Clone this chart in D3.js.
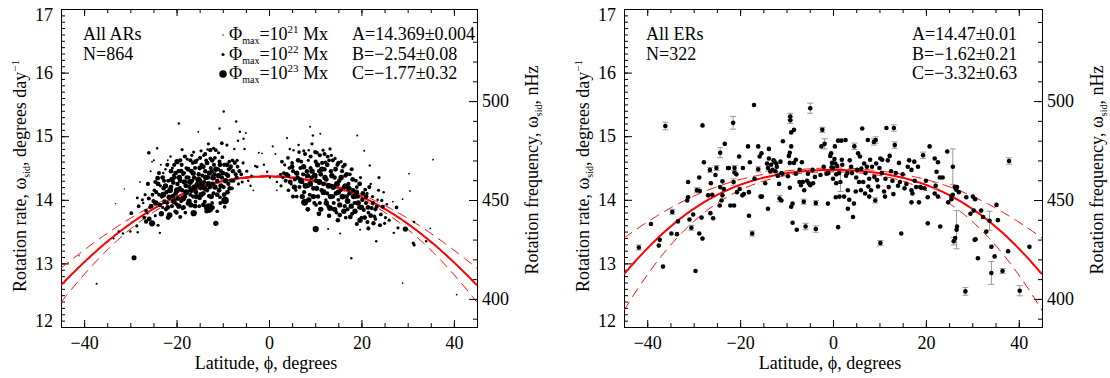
<!DOCTYPE html>
<html>
<head>
<meta charset="utf-8">
<script src="https://cdn.jsdelivr.net/npm/d3@7"></script>
<style>
  body { margin: 0; background: #fff; }
  svg text { font-family: "Liberation Serif", "Times New Roman", serif; font-size: 18px; fill: #000; }
</style>
</head>
<body>
<svg id="chart" width="1110" height="378"></svg>
<script>
// ---- data ----
// active regions: [latitude deg, rotation rate deg/day, peak flux in 1e22 Mx]
const arOutliers = [
  [-41.1,13.12,0.1],[-37.3,12.68,0.3],[-33.6,13.39,0.3],[-33.2,13.94,0.1],[-32.5,13.50,0.5],[-31.6,13.47,0.5],
  [-31.3,14.17,0.1],[-30.0,13.50,0.5],[-29.8,13.79,1.5],[-29.2,13.09,3.5],[-28.5,14.03,0.8],[-28.2,13.90,1.5],
  [-28.6,13.59,1],[-28.4,13.49,0.5],[-27.9,14.28,0.2],[-27.4,14.00,1],[-26.6,13.83,1.5],[-26.0,14.74,1.5],
  [-25.3,14.60,0.2],[-24.2,14.81,0.5],[-24.1,14.34,3],[-23.6,13.48,0.5],[-19.5,15.20,0.5],[-15.3,15.07,0.2],
  [-10.7,15.12,0.5],[-9.8,15.39,0.5],[-7.1,15.23,0.5],[-6.3,15.07,0.5],[-5.0,15.05,0.3],[-10.2,14.89,1.5],
  [-11.5,13.63,4],[-13.0,13.87,20],[-16.3,13.79,6],[-19.2,13.73,2],[-25.3,13.63,6],[-9.5,13.99,10],
  [26.8,13.97,0.2],[27.6,13.88,1.5],[27.9,13.56,1],[28.9,14.01,0.2],[29.5,13.54,4],[30.3,14.41,0.2],
  [30.5,14.14,0.2],[31.4,13.65,0.5],[31.2,13.32,1],[31.4,13.29,1],[34.0,13.35,0.5],[34.9,13.55,0.2],
  [35.5,14.63,0.2],[28.9,12.69,0.2],[40.6,12.51,0.2],[26.0,13.68,1],[27.0,13.48,0.5]
];
const arSouth = [
  [-27.2,13.95,0.5],[-26.8,14.08,1],[-27.0,13.72,1.5],[-26.6,13.66,2.5],
  [-26.2,14.25,2],[-25.8,13.88,1],[-25.9,13.70,3],[-26.3,13.79,0.5],[-25.6,14.45,0.3],
  [-24.8,14.15,1.5],[-25.0,13.98,2],[-24.6,13.75,1],[-24.9,14.62,0.3],[-25.2,14.08,1.5],
  [-23.8,14.08,1.5],[-23.6,13.92,2.5],[-24.0,13.60,1],[-23.5,14.22,1],[-24.4,14.12,2],
  [-23.2,14.05,2],[-22.8,14.18,2.5],[-23.0,13.88,1],[-22.6,13.97,3],[-22.9,14.42,0.5],[-23.4,14.55,0.3],[-22.7,14.30,2],
  [-22.2,14.12,2.5],[-21.8,14.30,2],[-22.0,13.95,1.5],[-21.6,14.04,4],[-21.5,13.76,5],[-22.4,14.48,0.5],[-21.9,14.62,0.3],[-22.3,13.85,2],
  [-21.2,14.20,3],[-20.8,14.06,2.5],[-21.0,13.90,2],[-20.6,14.38,1.5],[-20.9,14.50,1],[-21.3,14.68,0.5],[-20.7,14.27,2.5],
  [-20.2,14.10,3],[-19.8,14.25,2.5],[-19.9,14.60,4],[-20.0,13.93,2],[-19.6,14.45,2],[-20.3,13.82,1.5],[-19.7,14.02,3],[-20.4,14.35,2],
  [-19.2,14.30,3],[-18.8,14.15,2.5],[-19.0,13.98,2],[-18.6,14.40,1.5],[-18.9,14.55,2],[-18.7,13.86,1],[-18.8,14.79,1],[-19.3,14.18,2.5],
  [-18.2,14.05,3],[-17.8,14.35,2.5],[-18.0,14.22,3],[-17.6,13.94,2],[-17.9,14.50,1.5],[-17.7,14.64,1],[-18.1,13.80,1.5],[-18.4,14.42,2],
  [-17.2,14.20,2.5],[-16.8,14.45,3],[-17.0,14.08,2],[-16.6,14.30,2],[-16.9,13.92,4],[-16.7,14.70,1],[-16.5,14.58,1.5],[-17.4,14.35,2],
  [-16.2,14.35,2.5],[-15.8,14.12,3],[-16.0,14.50,2],[-15.6,14.25,2.5],[-15.9,13.97,1.5],[-16.3,14.75,1],[-15.5,14.63,1],[-16.4,14.05,2],
  [-15.2,14.40,2.5],[-14.8,14.18,2],[-15.0,14.03,2.5],[-14.6,14.55,2],[-14.9,14.30,3],[-15.1,13.90,1.5],[-14.7,14.77,1],[-15.4,14.22,2],
  [-14.2,14.10,3],[-13.8,14.45,2.5],[-14.0,14.28,2],[-13.6,14.62,1.5],[-13.9,13.97,2],[-14.1,14.70,1],[-13.5,13.82,2.5],[-14.4,14.38,2],
  [-13.2,14.35,2.5],[-12.8,14.20,3],[-12.6,14.50,2],[-13.0,14.06,2],[-13.1,14.88,1],[-12.7,14.65,1.5],[-13.3,14.79,0.5],[-13.4,14.15,2.5],
  [-12.2,14.25,3],[-11.8,14.40,2.5],[-12.0,14.10,2],[-11.9,14.55,2],[-12.3,13.95,1.5],[-12.0,14.81,1],[-11.7,14.66,1.5],[-12.4,14.45,2],
  [-11.2,14.30,2.5],[-10.8,14.15,3],[-11.0,14.48,2],[-10.6,14.04,1.5],[-10.9,14.74,1],[-11.2,13.82,1.5],[-10.7,14.60,2],
  [-10.2,14.35,2.5],[-9.8,14.20,2],[-9.7,14.55,2],[-9.6,13.89,1.5],[-10.1,14.67,1.5],[-10.4,14.45,2],
  [-9.2,14.40,2.5],[-8.8,14.25,2],[-9.0,14.12,3],[-8.6,14.60,1.5],[-9.1,14.86,1],[-8.7,14.48,2],
  [-8.2,14.30,2],[-7.8,14.45,2.5],[-8.0,14.18,1.5],[-7.5,14.80,0.5],[-7.9,14.62,1.5],
  [-7.0,14.35,2],[-6.8,14.52,1.5],[-6.6,14.25,1],[-6.9,14.62,1],[-6.7,14.93,0.5],
  [-6.0,14.40,1.5],[-5.8,14.28,1],[-5.5,14.96,0.5],[-5.6,14.58,1],[-5.3,14.80,0.5],
  [-4.5,14.30,0.5],[-4.0,14.22,0.5],[-3.4,14.15,0.2],[-3.0,14.53,0.5],[-2.6,14.52,1],[-2.2,14.74,0.3],
  [-1.5,14.73,0.2],[-1.1,14.55,0.5],[-4.8,14.45,1],[-3.8,14.38,0.5]
];
const arSouthCore = [
  [-24.5,13.95,4],[-24.0,14.25,3],[-23.3,13.78,4],[-22.9,14.08,5],[-22.4,14.22,4],[-21.9,13.88,3],[-21.4,14.15,5],
  [-21.0,14.32,4],[-20.6,13.98,5],[-20.2,14.42,3],[-19.9,14.15,5],[-19.5,13.90,4],[-19.4,14.35,4],[-19.0,14.45,3],
  [-18.6,14.02,5],[-18.3,14.28,4],[-17.9,14.12,5],[-17.5,14.48,3],[-17.3,13.98,4],[-17.1,14.28,5],[-16.8,14.15,4],
  [-16.4,14.42,4],[-16.1,14.20,5],[-15.9,14.60,3],[-15.7,14.05,4],[-15.3,14.32,5],[-15.0,14.50,3],[-14.7,14.08,4],
  [-14.5,14.25,5],[-14.2,14.52,3],[-13.9,14.18,4],[-13.7,14.35,4],[-13.4,14.58,3],[-13.1,14.25,5],[-12.9,14.42,4],
  [-12.5,14.05,4],[-12.3,14.62,3],[-12.1,14.35,5],[-11.7,14.20,4],[-11.5,14.48,4],[-11.2,14.08,3],[-10.9,14.38,4],
  [-10.6,14.55,3],[-10.4,14.22,4],[-10.0,14.42,3],[-9.7,14.08,3],[-9.4,14.30,4],[-9.1,14.55,3],[-8.9,14.38,3],
  [-8.5,14.18,3],[-8.3,14.52,3],[-7.7,14.30,2],[-7.4,14.58,2],[-7.2,14.40,2],[-6.4,14.45,2],[-23.0,14.35,3],
  [-22.0,14.55,2],[-21.2,14.45,3],[-20.5,14.55,2],[-19.2,14.62,2],[-18.2,14.68,2],[-17.0,14.62,2],[-14.9,14.66,2],
  [-13.8,14.72,2],[-12.7,14.78,2],[-11.5,14.78,1.5],[-18.5,13.88,3],[-16.0,13.90,3],[-14.2,13.92,3],[-12.2,13.88,2.5],
  [-10.5,13.95,2],[-25.5,13.90,3],[-26.0,14.02,2],[-24.6,14.28,2],[-23.8,14.42,2],[-21.8,13.72,3],[-20.0,13.80,2.5]
];
const arNorth = [
  [-0.4,14.44,0.5],[0.2,14.35,0.5],[0.8,14.84,0.3],[1.4,14.72,0.3],[1.7,14.15,0.2],[1.7,14.28,0.5],
  [2.5,14.40,1],[2.8,14.60,1.5],[2.6,14.22,1],
  [3.2,14.42,1.5],[3.6,14.30,2],[3.4,14.55,1],[3.9,14.97,0.3],[3.0,14.35,1],
  [4.2,14.38,2],[4.5,14.80,0.5],[4.4,14.50,1.5],[4.8,14.25,1],[4.1,14.66,1.5],
  [5.2,14.45,2],[5.3,14.78,0.5],[5.6,14.32,2],[5.8,14.15,1],[5.0,14.58,1.5],
  [6.2,14.35,2.5],[6.4,14.86,0.5],[6.6,14.20,2],[6.8,14.50,2],[6.0,14.05,1.5],
  [7.2,14.28,2.5],[7.5,14.77,1],[7.4,14.40,2],[7.7,13.96,8],[7.6,14.12,2],[7.0,14.60,1.5],
  [8.2,14.45,2.5],[8.6,14.78,0.5],[8.4,14.22,3],[8.8,14.08,2],[8.0,13.98,1.5],[8.5,14.62,1],
  [9.2,14.35,2.5],[9.3,14.88,1],[8.9,15.15,0.3],[9.5,15.01,0.5],[9.6,14.18,3],[9.0,14.50,2],[9.8,13.95,2],
  [10.4,14.74,1.5],[10.2,14.30,3],[10.2,13.92,1.5],[10.1,13.54,6],[10.6,14.05,2.5],[10.8,14.45,2],[10.1,14.60,2],
  [11.1,15.04,0.3],[11.2,14.40,3],[11.4,14.15,2.5],[11.7,14.78,1],[11.5,14.58,2],[11.0,13.95,2],[11.8,14.25,3],
  [12.2,14.59,1.5],[12.4,14.32,3],[12.6,14.10,2],[12.7,14.68,1.5],[12.0,14.48,2.5],[12.8,13.90,1.5],[12.8,13.54,0.3],[12.3,14.00,1],
  [13.2,14.80,1],[13.2,13.87,5],[13.4,14.45,2.5],[13.6,14.22,2],[13.8,14.05,2.5],[13.0,14.62,1.5],[13.5,14.70,1],
  [14.2,14.35,2.5],[14.5,14.10,3],[14.8,14.55,2],[14.0,13.95,2],[14.6,13.80,1.5],[14.3,14.65,1],
  [15.3,13.76,3],[15.4,13.47,0.3],[15.2,14.30,2.5],[15.5,14.15,2],[15.8,14.45,2],[15.0,14.00,1.5],[15.6,14.60,1],
  [16.2,14.20,2.5],[16.5,14.38,2],[16.4,13.90,2],[16.8,14.05,3],[16.0,14.52,1.5],[16.6,13.72,1.5],
  [17.2,14.25,2],[17.6,13.73,3],[17.4,14.10,2.5],[17.8,13.08,0.5],[17.0,13.85,2],[17.5,14.40,1.5],
  [18.2,14.15,2.5],[18.5,13.95,2],[18.8,14.30,1.5],[18.0,13.78,2],[18.6,14.05,3],
  [19.2,14.05,2.5],[19.1,15.01,0.3],[19.7,13.68,4],[19.5,13.88,2],[19.0,14.20,1.5],[19.8,14.35,1],[19.7,13.53,0.3],
  [20.2,14.00,2.5],[20.5,13.84,2],[20.8,14.16,1.5],[20.6,14.77,0.3],[20.0,13.72,1.5],
  [21.3,13.65,2],[21.0,13.95,2],[21.5,13.80,1.5],[21.8,14.54,0.5],[21.2,14.10,1],
  [22.6,13.63,2.5],[22.2,13.87,2],[22.4,14.05,1],[22.8,13.74,1.5],[22.0,14.25,0.5],
  [23.2,13.35,0.5],[23.3,13.89,2],[23.7,14.15,1],[23.0,13.70,1.5],[23.5,14.00,0.5],
  [24.4,13.99,1],[24.8,14.12,0.5],[24.2,13.77,1.5],[24.6,13.89,2],
  [25.2,13.72,1],[25.5,13.93,0.5],[25.0,13.63,1]
];
const arNorthCore = [
  [3.8,14.40,3],[4.6,14.28,3],[5.0,14.52,3],[5.5,14.20,4],[6.0,14.42,4],[6.3,14.62,3],[6.9,14.30,5],[7.2,14.05,4],
  [7.5,14.52,4],[7.9,14.22,5],[8.3,14.38,4],[8.6,14.00,4],[8.9,14.25,5],[9.3,14.45,4],[9.6,14.05,4],[9.9,14.38,5],
  [10.3,14.18,4],[10.5,14.55,4],[10.9,14.28,5],[11.2,13.85,4],[11.4,14.48,4],[11.8,14.12,5],[12.1,14.35,4],[12.4,13.95,4],
  [12.6,14.55,3],[12.9,14.22,5],[13.3,14.05,4],[13.6,14.38,4],[13.9,14.20,5],[14.2,13.85,4],[14.4,14.48,3],[14.7,14.25,5],
  [15.0,14.12,4],[15.3,13.92,4],[15.6,14.35,4],[15.9,14.05,5],[16.2,13.82,4],[16.5,14.22,4],[16.8,14.40,3],[17.0,13.98,5],
  [17.3,14.18,4],[17.8,13.90,4],[18.1,14.32,3],[18.3,14.05,4],[18.6,13.82,4],[18.9,14.12,4],[19.3,13.95,4],[19.6,14.25,3],
  [20.0,13.88,4],[20.3,14.10,3],[20.7,13.72,3],[21.0,14.05,3],[21.4,13.88,3],[21.7,14.20,2],[22.0,13.75,3],[22.5,13.95,2],
  [23.0,13.85,2],[9.0,14.68,2],[10.0,14.75,2],[11.0,14.70,2],[12.0,14.72,2],[13.8,14.62,2],[15.0,14.58,2],[16.4,14.55,2],
  [17.9,14.48,2],[7.8,14.72,2],[6.5,14.75,1.5],[8.4,13.85,3],[10.8,13.78,3],[13.0,13.75,2.5],[14.9,13.68,2.5],[19.0,13.62,2],
  [21.5,13.55,2],[5.2,14.05,2],[4.2,14.15,1.5],[24.0,13.60,2],[23.8,14.35,1]
];
const arPoints = [...arOutliers, ...arSouth, ...arSouthCore, ...arNorth, ...arNorthCore];

// ephemeral regions: [latitude deg, rotation rate deg/day, error bar half-length]
const erPoints = [
  [-41.8,13.25,0.04],[-39.2,13.62,0],[-37.3,13.37,0],[-37.5,13.28,0],[-36.6,12.95,0],[-36.1,15.16,0.06],
  [-34.8,13.47,0],[-34.6,13.81,0.04],[-33.6,13.46,0],[-33.4,13.66,0],
  [-31.4,13.99,0],[-31.2,14.04,0],[-31.2,14.28,0],[-30.9,13.69,0],[-30.5,13.56,0.04],[-30.1,13.77,0],
  [-29.6,12.88,0],[-29.3,14.15,0.04],[-28.7,14.14,0],[-28.8,14.35,0],[-28.8,13.47,0],[-28.3,13.72,0],[-28.1,13.39,0],[-28.1,15.17,0],[-27.8,14.59,0],
  [-26.9,14.07,0],[-26.5,14.47,0.04],[-26.3,14.26,0],[-26.4,13.79,0],[-25.8,13.71,0],[-26.0,14.08,0],
  [-25.3,14.39,0],[-25.1,14.50,0.04],[-24.3,14.74,0.08],[-24.4,13.91,0],[-24.3,14.20,0],[-24.0,13.99,0],[-23.8,14.07,0],[-23.8,14.29,0],[-23.5,14.17,0],
  [-23.3,14.88,0],[-22.6,14.50,0],[-22.4,14.50,0],[-22.1,13.91,0],[-21.5,15.21,0.1],[-21.4,14.28,0.05],[-21.2,14.50,0.04],[-21.2,14.43,0],[-21.3,13.91,0],[-20.8,14.40,0],
  [-20.7,14.12,0],[-20.2,14.68,0],[-20.1,14.17,0],[-19.5,14.07,0],[-19.4,14.50,0],[-19.2,14.09,0],
  [-18.3,14.84,0],[-18.1,14.12,0],[-18.1,13.75,0],[-17.9,14.59,0],[-17.4,13.47,0.04],[-16.9,14.33,0],[-17.0,15.49,0],
  [-16.1,14.48,0.04],[-16.1,14.84,0],[-15.8,14.68,0],[-15.6,14.05,0],[-15.3,14.05,0],[-15.4,14.73,0],
  [-14.6,14.26,0],[-14.2,14.57,0],[-14.0,14.50,0.05],[-14.0,13.86,0],[-13.8,14.65,0],[-13.8,14.80,0],
  [-13.5,14.45,0],[-13.3,14.55,0],[-13.0,14.47,0],[-12.8,14.62,0],[-12.6,14.60,0],[-12.4,14.45,0],[-12.2,14.57,0],[-12.1,14.52,0],
  [-11.9,14.38,0],[-11.6,14.25,0],[-11.5,14.02,0.05],[-11.3,14.60,0],[-11.1,14.42,0],
  [-11.1,13.99,0],[-10.9,14.41,0],[-10.8,14.92,0],
  [-9.7,14.37,0],[-9.5,14.69,0],[-9.3,14.74,0],[-9.3,14.58,0],[-9.2,15.31,0.05],[-9.2,15.25,0.05],[-9.0,15.06,0],[-9.0,14.84,0],
  [-9.3,14.19,0],[-9.0,13.89,0],[-8.7,13.94,0],[-8.7,13.64,0],[-8.4,15.10,0],
  [-8.4,14.58,0],[-8.0,14.63,0],[-8.0,14.41,0],[-7.8,13.53,0],
  [-7.2,14.47,0],[-7.2,14.28,0],[-6.9,14.23,0],[-6.7,14.59,0],[-6.5,14.28,0],[-6.3,13.97,0.04],[-6.2,14.15,0],
  [-5.9,13.58,0.05],[-5.6,14.30,0],[-5.4,14.41,0],[-5.2,14.26,0],[-4.9,14.23,0],[-4.9,15.44,0.08],
  [-4.4,14.47,0],[-4.3,14.26,0],[-3.9,14.36,0],[-3.7,13.95,0.04],[-3.7,13.54,0.05],
  [-2.7,14.39,0],[-2.5,14.84,0],[-2.3,15.10,0.04],[-2.0,14.52,0],[-1.8,14.88,0.08],
  [-1.4,14.41,0],[-1.1,13.94,0],[-1.0,14.42,0],[-0.6,14.69,0],[-0.4,14.73,0],[-0.3,14.51,0],[-0.2,14.58,0],
  [0.0,14.50,0],[0.0,14.33,0],[0.3,14.64,0],[0.4,14.84,0],[0.5,14.57,0],[0.6,14.04,0],[0.7,14.40,0],[0.7,14.26,0],
  [0.9,14.53,0],[1.1,13.57,0],[1.1,14.93,0],[1.4,14.05,0],
  [1.3,14.42,0],[1.6,14.28,0.15],[1.8,14.93,0],[1.9,14.63,0],[2.0,14.55,0],[2.4,14.05,0],[2.7,14.94,0],
  [2.8,14.38,0],[3.1,14.42,0],[3.2,14.15,0],[3.2,13.86,0],[3.5,14.00,0],[3.6,14.62,0],[3.9,14.52,0],[4.1,14.42,0],
  [4.3,13.73,0],[4.5,13.94,0],[4.6,14.84,0.05],
  [4.9,14.13,0],[5.0,14.35,0],[5.2,14.47,0],[5.4,14.73,0],[5.6,14.28,0],[5.8,14.68,0],[6.0,14.15,0],[6.1,14.49,0],[6.3,15.12,0],
  [6.5,14.28,0],[6.7,14.57,0],[6.9,14.10,0],[7.0,14.42,0],[7.3,14.52,0],[7.5,14.94,0],[7.6,14.21,0],[7.8,14.05,0],[7.8,14.33,0],[8.0,14.63,0],
  [8.2,14.15,0],[8.4,14.52,0],[8.8,14.91,0.05],[8.9,14.36,0],[9.1,13.99,0.04],[9.2,14.94,0.05],[9.3,14.57,0],
  [9.5,14.31,0],[9.7,14.21,0],[10.0,14.50,0],[10.2,13.32,0.04],[10.2,14.65,0],[10.5,14.42,0],[10.6,14.63,0],
  [11.0,14.13,0],[11.2,14.05,0],[11.3,14.33,0],[11.5,15.13,0],[11.8,14.62,0],[12.0,14.20,0],[12.2,14.69,0],[12.5,14.45,0],
  [12.8,14.30,0],[13.0,14.09,0],[13.1,15.13,0.05],[13.3,14.86,0.05],[13.5,14.42,0],
  [14.0,14.22,0],[14.2,14.58,0],[14.4,14.28,0],[14.7,13.47,0],[15.0,14.40,0],[15.4,14.18,0],[15.8,14.25,0],
  [16.1,14.52,0],[16.4,14.62,0],[16.9,14.47,0],[16.9,14.15,0],[16.9,13.96,0],[17.1,14.10,0],[17.5,14.60,0],[17.6,14.30,0],
  [17.9,14.20,0],[18.3,14.52,0],[18.5,13.96,0],[18.8,14.20,0],
  [19.0,14.19,0],[19.4,14.70,0.05],[19.7,14.18,0],[20.0,14.30,0],[20.4,14.04,0],[20.4,13.63,0],[20.8,14.84,0],
  [21.9,14.65,0],[21.9,14.10,0],[22.1,14.22,0.05],[22.3,14.44,0],[22.6,14.59,0],[22.6,14.05,0],[23.0,14.35,0],[23.1,13.58,0],[23.6,14.35,0],
  [24.6,14.76,0],[24.8,13.96,0],[25.5,14.01,0],[25.5,14.06,0],[25.8,14.08,0],[26.2,14.20,0],[26.5,14.16,0],[26.7,14.20,0],[27.1,14.12,0],
  [25.8,14.52,0.28],[26.0,13.35,0.06],[26.3,13.40,0],[26.6,13.53,0.3],[26.7,13.58,0],
  [28.7,14.04,0],[29.6,13.78,0],[30.1,14.05,0],[30.3,13.83,0],[30.6,14.01,0],[31.9,13.83,0],[32.3,13.73,0],[33.7,13.67,0.15],
  [28.5,12.56,0.06],[30.5,13.37,0],[30.7,13.38,0],[31.2,13.08,0],[33.0,13.50,0],[34.1,13.26,0],[34.8,13.11,0],[34.1,12.85,0.18],
  [35.2,13.92,0],[35.5,13.68,0],[36.5,12.88,0.04],[37.7,13.19,0],[37.9,14.61,0.05],[40.2,12.57,0.08],[42.3,13.26,0]
];

// fit omega = A + B sin^2(lat) + C sin^4(lat), with 1-sigma errors
const arFit = [14.369, -2.54, -1.77];
const arFitErr = [0.004, 0.08, 0.32];
const erFit = [14.47, -1.62, -3.32];
const erFitErr = [0.01, 0.21, 0.63];
const arParamText = ["A=14.369\u00b10.004", "B=\u22122.54\u00b10.08", "C=\u22121.77\u00b10.32"];
const erParamText = ["A=14.47\u00b10.01", "B=\u22121.62\u00b10.21", "C=\u22123.32\u00b10.63"];

// legend: peak flux (1e22 Mx) and exponent label
const legendFlux = [0.1, 1, 10];
const legendExp = ["21", "22", "23"];

// axes
const latDomain = [-45, 45];
const rateDomain = [12, 17];
const latMajor = [-40, -20, 0, 20, 40];
const latMinor = d3.range(-45, 45.01, 5);
const rateMajor = [12, 13, 14, 15, 16, 17];
const rateMinor = d3.range(120, 171).map(v => v / 10);
const hzMajor = [400, 450, 500];
const hzMinor = d3.range(390, 541, 10);
const nhzPerDeg = 1e9 / (360 * 86400);

const svg = d3.select("#chart");
const plotTop = 9, plotBottom = 327;

const rSize = d3.scalePow().exponent(0.37).domain([0, 1]).range([0, 1.6]);

function rich(sel, parts) {
  let shift = 0;
  parts.forEach(([t, k]) => {
    const target = k === "sub" ? 4 : k === "sup" ? -7 : 0;
    sel.append("tspan")
      .attr("dy", target - shift)
      .style("font-size", k === "sub" ? "10px" : k === "sup" ? "11px" : null)
      .text(t);
    shift = target;
  });
}

function drawPanel(p) {
  const g = svg.append("g");
  const x = d3.scaleLinear().domain(latDomain).range([p.left, p.right]);
  const y = d3.scaleLinear().domain(rateDomain).range([plotBottom, plotTop]);
  const yHz = d3.scaleLinear().domain(rateDomain.map(v => v * nhzPerDeg)).range([plotBottom, plotTop]);

  const clipId = "clip-" + p.kind;
  g.append("clipPath").attr("id", clipId).append("rect")
    .attr("x", p.left).attr("y", plotTop)
    .attr("width", p.right - p.left).attr("height", plotBottom - plotTop);

  // ticks (inward)
  const ax = (axis, tx, ty) => {
    const a = g.append("g").attr("transform", `translate(${tx},${ty})`).call(axis);
    a.select(".domain").remove();
    a.attr("font-family", null).attr("font-size", null);
    a.selectAll("line").attr("stroke", "#000");
    return a;
  };
  ax(d3.axisBottom(x).tickValues(latMinor).tickSize(-4).tickFormat(""), 0, plotBottom);
  ax(d3.axisBottom(x).tickValues(latMajor).tickSize(-7).tickPadding(9).tickFormat(d3.format("d")), 0, plotBottom);
  ax(d3.axisTop(x).tickValues(latMinor).tickSize(-4).tickFormat(""), 0, plotTop);
  ax(d3.axisTop(x).tickValues(latMajor).tickSize(-7).tickFormat(""), 0, plotTop);
  ax(d3.axisLeft(y).tickValues(rateMinor).tickSize(-4).tickFormat(""), p.left, 0);
  const left = ax(d3.axisLeft(y).tickValues(rateMajor).tickSize(-8).tickPadding(8).tickFormat(d3.format("d")), p.left, 0);
  left.selectAll("text").attr("dy", d => d === 12 ? "-0.05em" : d === 17 ? "0.65em" : "0.32em");
  ax(d3.axisRight(yHz).tickValues(hzMinor).tickSize(-4).tickFormat(""), p.right, 0);
  ax(d3.axisRight(yHz).tickValues(hzMajor).tickSize(-8).tickPadding(5).tickFormat(d3.format("d")), p.right, 0);

  g.append("rect")
    .attr("x", p.left + 0.5).attr("y", plotTop + 0.5)
    .attr("width", p.right - p.left).attr("height", plotBottom - plotTop)
    .attr("fill", "none").attr("stroke", "#000").attr("stroke-width", 1);

  // fit curve and 3-sigma band
  const grid = d3.range(-45, 45.001, 0.25);
  const s2 = lat => Math.pow(Math.sin(lat * Math.PI / 180), 2);
  const model = lat => p.fit[0] + p.fit[1] * s2(lat) + p.fit[2] * s2(lat) * s2(lat);
  const sig = lat => Math.sqrt(p.fitErr[0] ** 2 + (p.fitErr[1] * s2(lat)) ** 2 + (p.fitErr[2] * s2(lat) ** 2) ** 2);
  const curves = g.append("g").attr("clip-path", `url(#${clipId})`);
  [1, -1].forEach(sgn => {
    curves.append("path")
      .attr("d", d3.line().x(d => x(d)).y(d => y(model(d) + sgn * 3 * sig(d)))(grid))
      .attr("fill", "none").attr("stroke", "#ff0000").attr("stroke-width", 1)
      .attr("stroke-dasharray", "10,6");
  });
  curves.append("path")
    .attr("d", d3.line().x(d => x(d)).y(d => y(model(d)))(grid))
    .attr("fill", "none").attr("stroke", "#ff0000").attr("stroke-width", 2);

  // points
  const pts = g.append("g").attr("clip-path", `url(#${clipId})`);
  if (p.kind === "er") {
    const eb = p.points.filter(d => d[2] > 0);
    pts.selectAll("line.eb").data(eb).join("line").attr("class", "eb")
      .attr("x1", d => x(d[0])).attr("x2", d => x(d[0]))
      .attr("y1", d => y(d[1] - d[2])).attr("y2", d => y(d[1] + d[2]))
      .attr("stroke", "#999").attr("stroke-width", 1);
    [-1, 1].forEach(sgn => {
      pts.selectAll("line.cap" + (sgn > 0 ? "u" : "d")).data(eb).join("line")
        .attr("class", "cap" + (sgn > 0 ? "u" : "d"))
        .attr("x1", d => x(d[0]) - 3).attr("x2", d => x(d[0]) + 3)
        .attr("y1", d => y(d[1] + sgn * d[2])).attr("y2", d => y(d[1] + sgn * d[2]))
        .attr("stroke", "#999").attr("stroke-width", 1);
    });
    pts.selectAll("circle").data(p.points).join("circle")
      .attr("cx", d => x(d[0])).attr("cy", d => y(d[1])).attr("r", 2.3).attr("fill", "#000");
  } else {
    pts.selectAll("circle").data(p.points).join("circle")
      .attr("cx", d => x(d[0])).attr("cy", d => y(d[1])).attr("r", d => rSize(d[2])).attr("fill", "#000");
  }

  // annotations
  const tx = p.left + 22;
  g.append("text").attr("x", tx).attr("y", 40).text(p.title);
  g.append("text").attr("x", tx).attr("y", 59.5).text(p.count);
  p.params.forEach((t, i) => {
    g.append("text").attr("x", p.paramX).attr("y", 40 + i * 19.5).text(t);
  });

  if (p.kind === "ar") {
    legendFlux.forEach((f, i) => {
      const by = 40 + i * 19.5;
      g.append("circle").attr("cx", p.left + 162).attr("cy", by - 5).attr("r", rSize(f)).attr("fill", "#000");
      const t = g.append("text").attr("x", p.left + 168).attr("y", by);
      rich(t, [["\u03a6"], ["max", "sub"], ["=10"], [legendExp[i], "sup"], [" Mx"]]);
    });
  }

  // axis titles
  g.append("text").attr("x", (p.left + p.right) / 2 - 3).attr("y", 369)
    .attr("text-anchor", "middle").text("Latitude, \u03d5, degrees");
  const lt = g.append("text").attr("text-anchor", "middle")
    .attr("transform", `translate(${p.left - 35},176) rotate(-90)`);
  rich(lt, [["Rotation rate, \u03c9"], ["sid", "sub"], [", degrees day"], ["\u22121", "sup"]]);
  const rt = g.append("text").attr("text-anchor", "middle")
    .attr("transform", `translate(${p.right + 61},170) rotate(-90)`);
  rich(rt, [["Rotation frequency, \u03c9"], ["sid", "sub"], [", nHz"]]);
}

drawPanel({ kind: "ar", left: 61, right: 477, points: arPoints, fit: arFit, fitErr: arFitErr,
  title: "All ARs", count: "N=864", params: arParamText, paramX: 352 });
drawPanel({ kind: "er", left: 624, right: 1042, points: erPoints, fit: erFit, fitErr: erFitErr,
  title: "All ERs", count: "N=322", params: erParamText, paramX: 912 });
</script>
</body>
</html>
